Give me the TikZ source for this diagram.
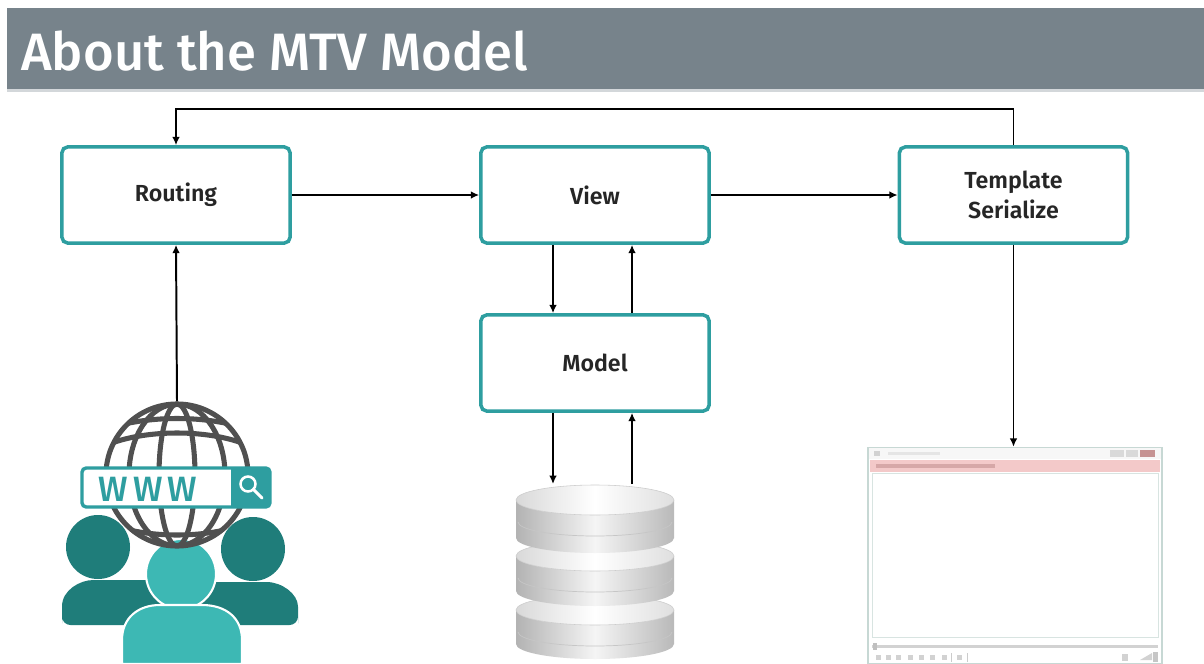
\documentclass[tikz,border=0pt]{standalone}
\usepackage{fontspec}
\setmainfont{Fira Sans}
\newfontfamily\semibold{Fira Sans SemiBold}
\newfontfamily\medium{Fira Sans Medium}
\usetikzlibrary{arrows.meta}
\definecolor{hdr}{HTML}{77838B}
\definecolor{hdrline}{HTML}{D3D7DA}
\definecolor{boxteal}{HTML}{2E9EA0}
\definecolor{darkteal}{HTML}{1F7D7A}
\definecolor{lightteal}{HTML}{3DB8B4}
\definecolor{globegray}{HTML}{505050}
\definecolor{labelink}{HTML}{262626}
\definecolor{winframe}{HTML}{C7D8D4}
\definecolor{winpink}{HTML}{F3C9C9}
\newcommand\dbdisc[2]{%
  % one disc of the database stack: top rim at #1, bottom rim at #2
  \path[left color=gray!60,right color=gray!55,middle color=gray!8]
    (516,#1) -- (516,#2) arc[start angle=180,end angle=0,x radius=79,y radius=15]
    -- (674,#1) arc[start angle=0,end angle=180,x radius=79,y radius=15] -- cycle;
  \draw[gray!45,line width=0.5pt] (518,#1+22) arc[start angle=180,end angle=0,x radius=77,y radius=14];
  \path[left color=gray!30,right color=gray!25,middle color=white] (595,#1) ellipse[x radius=79,y radius=15];
  \draw[gray!40,line width=0.4pt] (595,#1) ellipse[x radius=79,y radius=15];
}
\tikzset{
  stage/.style={draw=boxteal,line width=2.5pt,rounded corners=4pt,fill=white,
    minimum width=5.7cm,minimum height=2.4cm,align=center,text=labelink,
    font=\semibold\fontsize{16.5}{21.5}\selectfont},
  arr/.style={line width=1.4pt,-{Latex[length=6pt,width=5.5pt]}},
  globeline/.style={globegray,line width=3.6pt},
}
\begin{document}
\begin{tikzpicture}[x=0.025cm,y=-0.025cm]
\useasboundingbox (0,0) rectangle (1204,664);
\fill[white] (0,0) rectangle (1204,664);

% title band
\fill[hdr] (7,8) rectangle (1204,89);
\fill[hdrline] (7,89) rectangle (1204,92);
\node[anchor=base west,inner sep=0pt,text=white,font=\medium\fontsize{37.4}{40}\selectfont] (title) at (21,70) {About the MTV Model};

% stages
\node[stage] (route) at (176,195) {Routing};
\node[stage] (view) at (595,195) {View};
\node[stage] (tmpl) at (1013.5,195) {Template\\Serialize};
\node[stage] (model) at (595,363) {Model};

% users with a web globe
\fill[darkteal] (98,547) circle (32);
\fill[darkteal] (253,549) circle (32);
\fill[darkteal,rounded corners=6pt] (62,625) -- (62,615) .. controls (62,590) and (80,580) .. (102,580)
   -- (140,580) .. controls (165,580) and (180,598) .. (180,620) -- (180,625) -- cycle;
\fill[darkteal,rounded corners=6pt] (180,625) -- (180,620) .. controls (180,598) and (195,582) .. (218,582)
   -- (258,582) .. controls (282,582) and (298,594) .. (298,615) -- (298,625) -- cycle;
\fill[lightteal,draw=white,line width=1.5pt] (181,574) circle (35);
\fill[lightteal,draw=white,line width=1.5pt] (122,664) -- (122,640) .. controls (122,618) and (138,605) .. (160,605)
   -- (202,605) .. controls (226,605) and (242,618) .. (242,640) -- (242,664) -- cycle;

\node[circle,draw=globegray,line width=3.6pt,minimum size=3.55cm,inner sep=0pt] (globe) at (177,475) {};
\begin{scope}
  \clip (177,475) circle (70);
  \draw[globeline] (177,475) ellipse[x radius=48,y radius=71];
  \draw[globeline] (177,475) ellipse[x radius=18,y radius=71];
  \draw[globeline] (100,448) .. controls (140,428) and (214,428) .. (254,448);
  \draw[globeline] (100,520) .. controls (140,540) and (214,540) .. (254,520);
  \draw[globeline] (100,432) .. controls (140,414) and (214,414) .. (254,432);
\end{scope}
% address bar
\draw[boxteal,line width=2.4pt,fill=white,rounded corners=3pt] (82,468) rectangle (270,507);
\fill[boxteal,rounded corners=3pt] (231,468) rectangle (270,507);
\fill[boxteal] (231,468) rectangle (240,507);
\node[text=boxteal,font=\medium\fontsize{25}{25}\selectfont\addfontfeatures{LetterSpace=14},inner sep=0pt] (www) at (148,489) {WWW};
\draw[white,line width=1.8pt] (248,484) circle (7.5);
\draw[white,line width=2.2pt,line cap=round] (254,490) -- (262,498);

% database
\coordinate (dbtop) at (595,484);
\dbdisc{610}{644}
\dbdisc{556}{591}
\dbdisc{500}{538}

% browser window
\node[draw=winframe,line width=1pt,fill=white,minimum width=7.35cm,minimum height=5.4cm,inner sep=0pt] (win) at (1015,555.5) {};
\fill[gray!6] (869,448) rectangle (1161,459);
\fill[gray!35] (874,451) rectangle (880,456);
\fill[gray!20] (888,452) rectangle (940,455);
\fill[gray!30] (1110,450) rectangle (1124,457);
\fill[gray!30] (1126,450) rectangle (1138,457);
\fill[winpink!80!red!60!gray] (1140,450) rectangle (1155,457);
\fill[winpink] (870,460) rectangle (1160,472);
\fill[winpink!70!red!50!gray,opacity=0.5] (876,464) rectangle (995,468);
\draw[winframe!70,line width=0.6pt] (872,473) rectangle (1158,637);
\fill[gray!35] (872,645) rectangle (1158,648);
\fill[gray!50] (873,643) rectangle (877,650);
\foreach \bx in {876,886,896,908,919,930,942} \fill[gray!35] (\bx,655) rectangle (\bx+5,660);
\draw[gray!40,line width=0.5pt] (951,653) -- (951,662);
\fill[gray!35] (957,655) rectangle (962,660);
\draw[gray!40,line width=0.5pt] (967,653) -- (967,662);
\fill[gray!35] (1122,654) rectangle (1128,661);
\fill[gray!35] (1140,660) -- (1152,653) -- (1152,660) -- cycle;
\fill[gray!45] (1153,652) rectangle (1158,662);

% connectors
\coordinate (loopL) at (176,109);
\coordinate (mL) at (553,0);
\coordinate (mR) at (632,0);
\draw[arr] (tmpl.north) |- (loopL) -- (route.north);
\draw[arr] (route) -- (view);
\draw[arr] (view) -- (tmpl);
\draw[arr] (globe.north) -- (route.south);
\draw[arr] (view.south -| mL) -- (model.north -| mL);
\draw[arr] (model.north -| mR) -- (view.south -| mR);
\draw[arr] (model.south -| mL) -- (dbtop -| mL);
\draw[arr] (dbtop -| mR) -- (model.south -| mR);
\draw[arr] (tmpl.south) -- (tmpl.south |- win.north);
\end{tikzpicture}
\end{document}
